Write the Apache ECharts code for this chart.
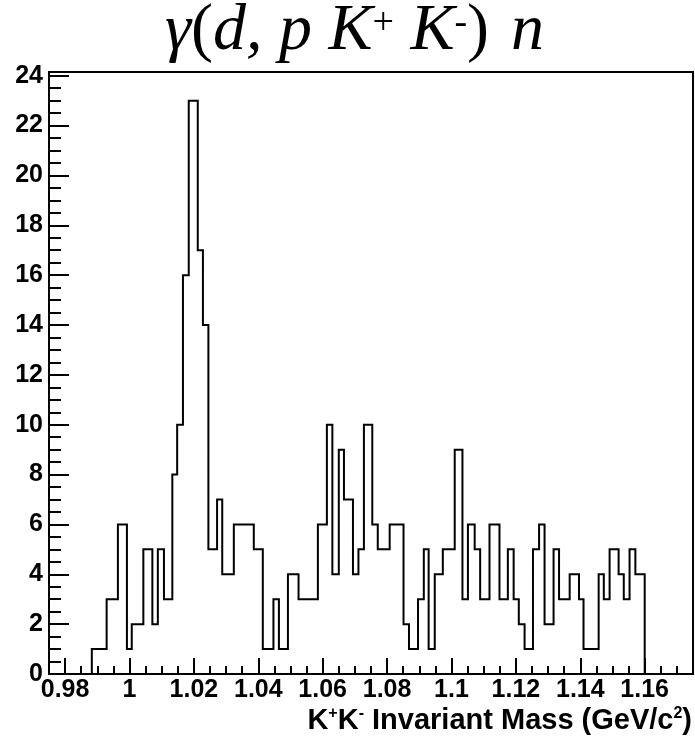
<!DOCTYPE html>
<html><head><meta charset="utf-8">
<script src="https://cdn.jsdelivr.net/npm/echarts@6/dist/echarts.min.js"></script>
<style>html,body{margin:0;padding:0;background:#fff}#c{width:695px;height:742px}</style>
</head><body><div id="c"></div>
<script>
const binEdges = [0.9883, 0.9929, 0.9964, 0.9992, 1.0007, 1.0043, 1.0071, 1.0088, 1.0107, 1.0133,
  1.0148, 1.0166, 1.0184, 1.0212, 1.0228, 1.0245, 1.0272, 1.0288, 1.0324, 1.0386,
  1.0414, 1.0447, 1.0464, 1.0492, 1.0525, 1.0585, 1.0613, 1.0630, 1.0650, 1.0666,
  1.0694, 1.0711, 1.0728, 1.0754, 1.0771, 1.0808, 1.0851, 1.0868, 1.0896, 1.0914,
  1.0929, 1.0948, 1.0973, 1.1010, 1.1034, 1.1051, 1.1072, 1.1089, 1.1118, 1.1149,
  1.1175, 1.1193, 1.1209, 1.1227, 1.1253, 1.1272, 1.1289, 1.1317, 1.1334, 1.1367,
  1.1396, 1.1410, 1.1457, 1.1473, 1.1491, 1.1519, 1.1535, 1.1553, 1.1571, 1.1600];
const counts = [1, 3, 6, 1, 2, 5, 2, 5, 3, 8,
  10, 16, 23, 17, 14, 5, 7, 4, 6, 5,
  1, 3, 1, 4, 3, 6, 10, 4, 9, 7,
  4, 5, 10, 6, 5, 6, 2, 1, 3, 5,
  1, 4, 5, 9, 3, 6, 5, 3, 6, 3,
  5, 3, 2, 1, 5, 6, 2, 5, 3, 4,
  3, 1, 4, 3, 5, 4, 3, 5, 4];
const xRange = [0.975, 1.175];
const yRange = [0, 24.15];
const xMajorTicks = [0.98, 1.00, 1.02, 1.04, 1.06, 1.08, 1.10, 1.12, 1.14, 1.16];
const xMinorTicks = [0.985, 0.99, 0.995, 1.005, 1.01, 1.015, 1.025, 1.03, 1.035, 1.045, 1.05, 1.055,
  1.065, 1.07, 1.075, 1.085, 1.09, 1.095, 1.105, 1.11, 1.115, 1.125, 1.13, 1.135,
  1.145, 1.15, 1.155, 1.165, 1.17];
const yMajorTicks = [0, 2, 4, 6, 8, 10, 12, 14, 16, 18, 20, 22, 24];
const yMinorTicks = [0.5, 1, 1.5, 2.5, 3, 3.5, 4.5, 5, 5.5, 6.5, 7, 7.5, 8.5, 9, 9.5, 10.5, 11, 11.5,
  12.5, 13, 13.5, 14.5, 15, 15.5, 16.5, 17, 17.5, 18.5, 19, 19.5, 20.5, 21, 21.5, 22.5, 23, 23.5];

// step-line points: rise from 0 at first edge, one point per bin start, fall to 0 at last edge
const stepData = [[binEdges[0], 0]];
counts.forEach((c, i) => stepData.push([binEdges[i], c]));
stepData.push([binEdges[binEdges.length - 1], 0]);

const labelFont = {fontFamily: 'Liberation Sans', fontWeight: 'bold', fontSize: 25, color: '#000'};
const serifIt = {fontFamily: 'Liberation Serif', fontStyle: 'italic', fontWeight: 'normal', fontSize: 66, color: '#000'};
const chart = echarts.init(document.getElementById('c'), null, {renderer: 'canvas'});
chart.setOption({
  animation: false,
  backgroundColor: '#fff',
  title: {
    text: '{i|γ}{p|(}{i|d, p K}{s|+}{i| K}{s|-}{p|)}{n|n}',
    left: 160, top: -6,
    textStyle: {
      fontWeight: 'normal',
      rich: {
        i: serifIt,
        n: Object.assign({}, serifIt, {padding: [0, 0, 0, 22]}),
        p: {fontFamily: 'Liberation Serif', fontWeight: 'normal', fontSize: 66, color: '#000'},
        s: {fontFamily: 'Liberation Serif', fontWeight: 'normal', fontSize: 38, color: '#000', verticalAlign: 'top', padding: [6, 0, 0, 0]}
      }
    }
  },
  grid: {left: 49, right: 2, top: 72, bottom: 68, show: true, borderColor: '#000', borderWidth: 2},
  xAxis: [{
    type: 'value', min: xRange[0], max: xRange[1], position: 'bottom',
    splitLine: {show: false},
    axisLine: {show: true, lineStyle: {color: '#000', width: 2}},
    axisTick: {inside: true, length: 16, lineStyle: {color: '#000', width: 2}, customValues: xMajorTicks},
    axisLabel: Object.assign({margin: 4, customValues: xMajorTicks}, labelFont),
    name: '{a|K}{s|+}{a|K}{s|-}{a| Invariant Mass (GeV/c}{s|2}{a|)}',
    nameLocation: 'end', nameGap: -1,
    nameTextStyle: {
      align: 'right', verticalAlign: 'top', padding: [32, 0, 0, 0],
      rich: {
        a: {fontFamily: 'Liberation Sans', fontWeight: 'bold', fontSize: 29, color: '#000'},
        s: {fontFamily: 'Liberation Sans', fontWeight: 'bold', fontSize: 16, color: '#000', verticalAlign: 'top'}
      }
    }
  }, {
    type: 'value', min: xRange[0], max: xRange[1], position: 'bottom',
    splitLine: {show: false}, axisLine: {show: false}, axisLabel: {show: false},
    axisTick: {inside: true, length: 8, lineStyle: {color: '#000', width: 2}, customValues: xMinorTicks}
  }],
  yAxis: [{
    type: 'value', min: yRange[0], max: yRange[1], position: 'left',
    splitLine: {show: false},
    axisLine: {show: true, lineStyle: {color: '#000', width: 2}},
    axisTick: {inside: true, length: 20, lineStyle: {color: '#000', width: 2}, customValues: yMajorTicks},
    axisLabel: Object.assign({margin: 6, customValues: yMajorTicks}, labelFont)
  }, {
    type: 'value', min: yRange[0], max: yRange[1], position: 'left',
    splitLine: {show: false}, axisLine: {show: false}, axisLabel: {show: false},
    axisTick: {inside: true, length: 12, lineStyle: {color: '#000', width: 2}, customValues: yMinorTicks}
  }],
  series: [{
    type: 'line', xAxisIndex: 0, yAxisIndex: 0, step: 'end', data: stepData,
    symbol: 'none', lineStyle: {color: '#000', width: 2, join: 'miter'}, z: 3
  }]
});
</script></body></html>
